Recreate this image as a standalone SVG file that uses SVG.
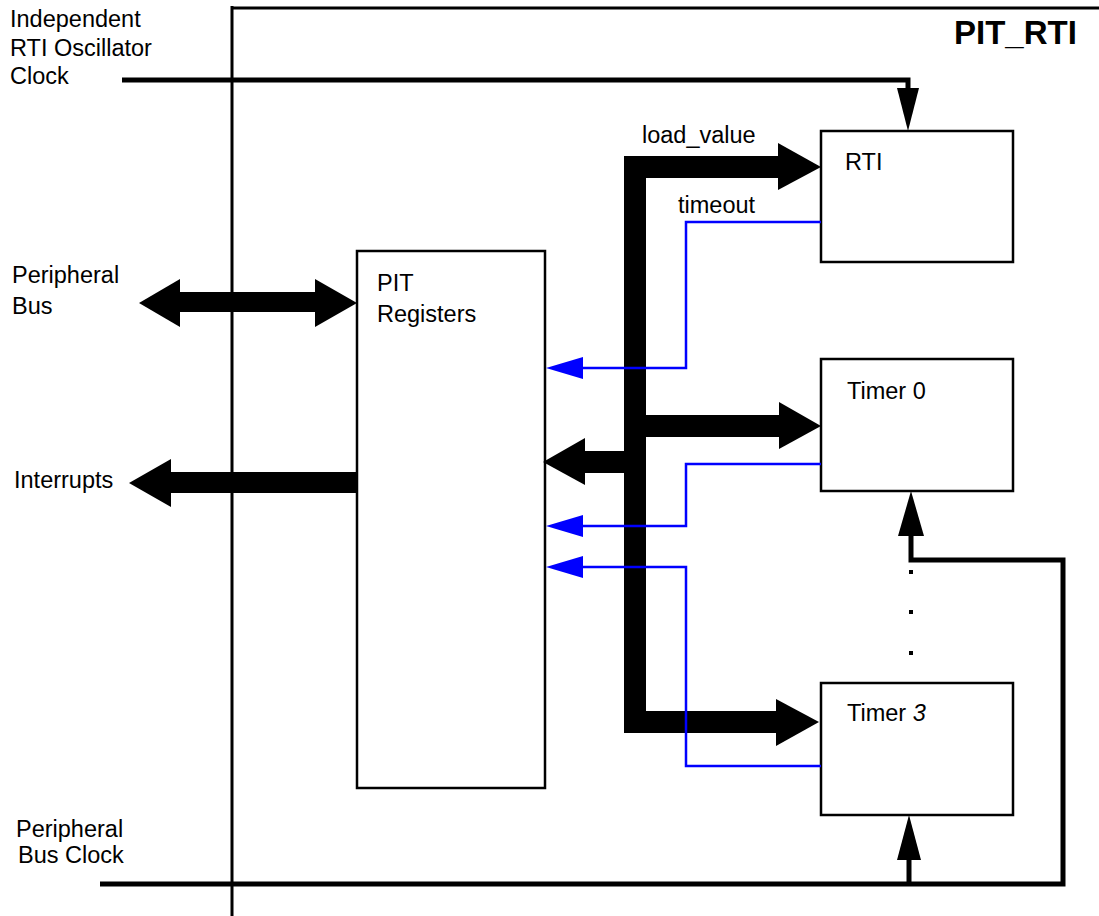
<svg xmlns="http://www.w3.org/2000/svg" width="1099" height="916" viewBox="0 0 1099 916">
<style>
text{font-family:"Liberation Sans",Arial,sans-serif;font-size:23.5px;fill:#000}
.title{font-weight:bold;font-size:33px}
.box{fill:#fff;stroke:#000;stroke-width:2.5}
.border{stroke:#000;stroke-width:3;fill:none}
.bus{stroke:#000;stroke-width:22;fill:none;stroke-linejoin:miter}
.clk{stroke:#000;stroke-width:5;fill:none;stroke-linejoin:miter}
.sig{stroke:#0000ff;stroke-width:2.5;fill:none}
.head{fill:#000}
.bhead{fill:#0000ff}
</style>
<rect width="1099" height="916" fill="#fff"/>
<g id="border">
<line class="border" x1="232" y1="6" x2="232" y2="916"/>
<line class="border" x1="231" y1="8" x2="1099" y2="8"/>
<text class="title" x="954" y="44">PIT_RTI</text>
</g>
<g id="labels">
<text x="10" y="27">Independent</text>
<text x="10" y="56">RTI Oscillator</text>
<text x="10" y="84">Clock</text>
<text x="12" y="283">Peripheral</text>
<text x="12" y="314">Bus</text>
<text x="14" y="488">Interrupts</text>
<text x="16" y="837">Peripheral</text>
<text x="18" y="863">Bus Clock</text>
<text x="642" y="143">load_value</text>
<text x="678" y="213">timeout</text>
</g>
<g id="pit-registers">
<rect class="box" x="357" y="251" width="188" height="537"/>
<text x="377" y="291">PIT</text>
<text x="377" y="322">Registers</text>
</g>
<g id="rti">
<rect class="box" x="821" y="131" width="192" height="131"/>
<text x="845" y="170">RTI</text>
</g>
<g id="timer0">
<rect class="box" x="821" y="359" width="192" height="132"/>
<text x="847" y="399">Timer 0</text>
</g>
<g id="timer3">
<rect class="box" x="821" y="683" width="192" height="132"/>
<text x="847" y="721">Timer <tspan font-style="italic">3</tspan></text>
</g>
<g id="connectors">
<!-- RTI oscillator clock -->
<path class="clk" d="M122 80 H908 V90"/>
<polygon class="head" points="897,88 908,131 919,88"/>
<!-- peripheral bus clock -->
<path class="clk" d="M100 884 H1063 V560 H911 V534"/>
<polygon class="head" points="898,536 911,491 924,536"/>
<path class="clk" d="M909 884 V858"/>
<polygon class="head" points="897,860 909,815 921,860"/>
<rect x="909" y="570" width="4" height="4"/>
<rect x="909" y="610" width="4" height="4"/>
<rect x="909" y="651" width="4" height="4"/>
<!-- internal bus -->
<path class="bus" d="M780 167 H635 V722 H778"/>
<polygon class="head" points="778,143 821,167 778,190"/>
<polygon class="head" points="776,699 819,722 776,746"/>
<path class="bus" d="M646 426 H781"/>
<polygon class="head" points="779,402 821,426 779,449"/>
<path class="bus" d="M626 462 H583"/>
<polygon class="head" points="585,438 543,462 585,485"/>
<!-- peripheral bus -->
<path class="bus" style="stroke-width:20" d="M178 302 H317"/>
<polygon class="head" points="180,279 139,303 180,327"/>
<polygon class="head" points="315,279 357,303 315,327"/>
<!-- interrupts -->
<path class="bus" style="stroke-width:21" d="M357 482.5 H169"/>
<polygon class="head" points="171,459 129,483 171,507"/>
<!-- timeout signals -->
<path class="sig" d="M821 222 H686 V368 H581"/>
<polygon class="bhead" points="583,357 546,368 583,379"/>
<path class="sig" d="M821 464 H686 V526 H581"/>
<polygon class="bhead" points="583,515 546,526 583,537"/>
<path class="sig" d="M581 567 H686 V766 H821"/>
<polygon class="bhead" points="583,556 546,567 583,578"/>
</g>
</svg>
